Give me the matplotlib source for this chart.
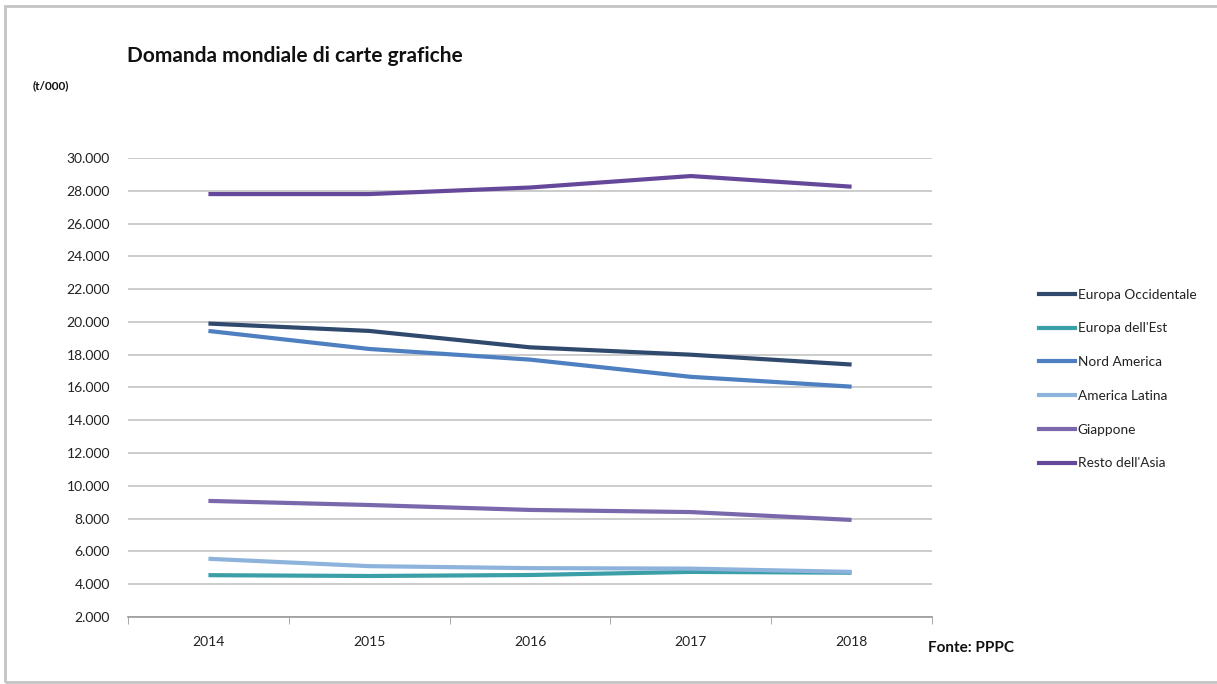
import matplotlib
matplotlib.use("Agg")
import matplotlib.pyplot as plt
from matplotlib.ticker import FuncFormatter
import matplotlib.lines as mlines

plt.rcParams['font.family'] = ['Liberation Sans Narrow', 'Lato', 'DejaVu Sans']

anni = ["2014", "2015", "2016", "2017", "2018"]

europa_occ = [19900, 19450, 18450, 18000, 17400]
europa_est = [4550, 4500, 4560, 4750, 4700]
nord_america = [19450, 18350, 17700, 16650, 16050]
america_latina = [5550, 5100, 4980, 4950, 4750]
giappone = [9080, 8830, 8530, 8400, 7920]
resto_asia = [27800, 27800, 28200, 28900, 28250]

serie = [
    ("Europa Occidentale", europa_occ, "#2f4a6d"),
    ("Europa dell'Est", europa_est, "#3a9fa6"),
    ("Nord America", nord_america, "#4d7fc1"),
    ("America Latina", america_latina, "#8db3dc"),
    ("Giappone", giappone, "#7968ab"),
    ("Resto dell'Asia", resto_asia, "#65489a"),
]

fig = plt.figure(figsize=(12.17, 6.84), dpi=100)
ax = fig.add_axes([0.1052, 0.098, 0.6606, 0.671])

x = list(range(len(anni)))
for nome, valori, colore in serie:
    ax.plot(x, valori, color=colore, lw=3.0, solid_capstyle='butt', zorder=3)

ax.set_xlim(-0.5, len(anni) - 0.5)
ax.set_ylim(2000, 30000)
ax.set_yticks(range(2000, 30001, 2000))
ax.yaxis.set_major_formatter(FuncFormatter(lambda v, p: f"{int(v):,}".replace(",", ".")))
ax.set_xticks(x)
ax.set_xticklabels(anni)
ax.set_xticks([i - 0.5 for i in range(len(anni) + 1)], minor=True)

ax.grid(axis='y', color='#c8c8c8', lw=1.3, zorder=0)
for s in ['top', 'right', 'left']:
    ax.spines[s].set_visible(False)
ax.spines['bottom'].set_color('#9a9a9a')
ax.spines['bottom'].set_linewidth(1.2)
ax.tick_params(axis='y', length=0, pad=13, labelsize=10, labelcolor='#222222')
ax.tick_params(axis='x', which='major', length=0, pad=14, labelsize=10, labelcolor='#222222')
ax.tick_params(axis='x', which='minor', length=5, color='#9a9a9a', direction='out')

fig.text(127 / 1217, 1 - 56 / 684, "Domanda mondiale di carte grafiche",
         fontsize=15, fontweight='bold', color='#111111', va='center')
fig.text(33 / 1217, 1 - 86 / 684, "(t/000)", fontsize=8.5, fontweight='bold',
         color='#111111', va='center')
fig.text(928 / 1217, 1 - 648 / 684, "Fonte: PPPC", fontsize=11, fontweight='bold',
         color='#111111', va='center')

handles = [mlines.Line2D([], [], color=c, lw=3) for _, _, c in serie]
fig.legend(handles, [n for n, _, _ in serie], loc='center left',
           bbox_to_anchor=(1034 / 1217, 1 - 379 / 684), frameon=False,
           fontsize=9.8, handlelength=2.6, handletextpad=0.2, labelspacing=1.6,
           borderaxespad=0, labelcolor='#222222')

# cornice attorno al grafico
frame = plt.Rectangle((5 / 1217, 2 / 684), 1.05, 1 - 8 / 684, transform=fig.transFigure,
                      fill=False, edgecolor='#c4c4c4', lw=2, clip_on=False)
fig.patches.append(frame)

fig.savefig("out.png", dpi=100)
